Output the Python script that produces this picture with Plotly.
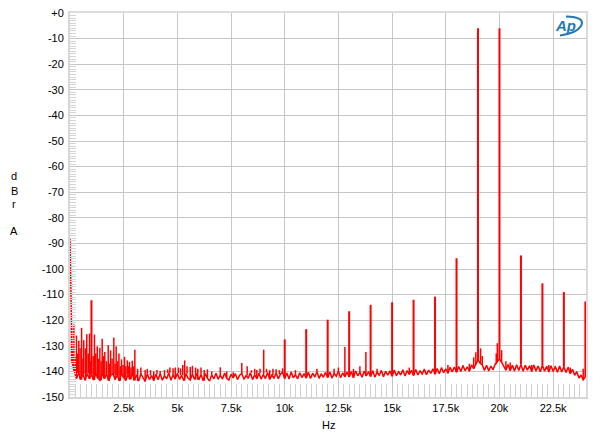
import plotly.graph_objects as go

# ---------------- data ----------------
FLOOR_STEP_HZ = 100
noise_floor_db = [
    -88, -136.5, -140, -142.8, -140.6, -143.2, -141, -143.5, -140.8, -142.9,
    -141.2, -143.4, -140.7, -142.6, -143.5, -140.9, -142.8, -141.1, -143.6, -141.5,
    -140.9, -143.2, -141.4, -143.7, -140.8, -142.5, -143.6, -141.2, -143.1, -140.7,
    -143.5, -141.3, -143.8, -141, -142.7, -143.9, -140.9, -143.2, -141.6, -143.6,
    -141.1, -143.3, -140.8, -143.5, -141.7, -142.9, -140.6, -143.4, -141.3, -143,
    -140.7, -143.1, -141.5, -143.6, -140.9, -142.7, -143.4, -141, -143.2, -140.8,
    -143.3, -141.2, -143.7, -140.9, -142.6, -143.8, -141.3, -142.9, -140.7, -143.1,
    -141.4, -143, -140.6, -142.8, -143.4, -141.1, -142.5, -140.9, -143.2, -141.5,
    -140.8, -143.1, -141.6, -142.7, -140.5, -143.2, -141.3, -142.9, -140.7, -143,
    -141.2, -142.8, -140.4, -143.1, -141.5, -142.6, -140.6, -142.9, -141.1, -140.3,
    -142.8, -140.6, -143, -140.2, -142.5, -141.3, -142.9, -140.5, -142.4, -140.9,
    -142.6, -140.3, -142.8, -140.7, -142.2, -140.1, -142.7, -140.9, -142.3, -140.4,
    -142.4, -140.2, -142.6, -140.8, -141.9, -139.9, -142.5, -140.6, -142.1, -140.3,
    -142.2, -140, -142.5, -139.8, -141.7, -140.4, -142.3, -139.9, -141.8, -140.1,
    -142, -139.7, -142.3, -140.2, -141.6, -139.6, -142.1, -140, -141.5, -139.8,
    -141.9, -139.5, -141.7, -140.1, -141.4, -139.4, -141.8, -139.7, -141.2, -139.6,
    -141.6, -139.3, -141.4, -139.8, -141, -139.2, -141.3, -139.5, -140.8, -139,
    -141.1, -138.9, -140.9, -138.6, -140.5, -139, -140.7, -138.4, -140.2, -138.3,
    -140.3, -138.1, -140, -137.8, -139.7, -138.2, -139.9, -137.5, -138.9, -137.2,
    -135.5, -136.8, -137.5, -139.6, -137.6, -139.8, -137.9, -139.3, -137.2, -136.2,
    -135, -136.5, -137.8, -139.5, -137.3, -139.7, -137.6, -139.8, -137.4, -139.6,
    -137.3, -139.9, -137.6, -139.5, -137.8, -140, -137.5, -139.8, -137.9, -140.1,
    -137.6, -139.9, -138, -140.2, -137.8, -140, -138.1, -140.3, -137.9, -140.2,
    -138.2, -140.4, -138.4, -140.9, -139.2, -141.5, -140.1, -142.6, -141.4, -143.3,
    -142.2,
]

# small spurs (Hz, dBr)
spur_hz = [
    70, 120, 180, 250, 300, 360, 410, 470, 540, 600, 640, 720, 780, 850, 910, 960,
    1080, 1140, 1200, 1270, 1330, 1390, 1450, 1500, 1560, 1620, 1700, 1780, 1830,
    1890, 1960, 2040, 2100, 2150, 2220, 2280, 2340, 2400, 2470, 2540, 2600, 2670,
    2720, 2770, 2840, 2900, 2960, 3020, 3150, 3300, 3500, 3600, 3750, 3900, 4050,
    4200, 4400, 4550, 4650, 4800, 4900, 5050, 5150, 5250, 5340, 5450, 5600, 5700,
    5850, 5950, 6100, 6250, 6400, 6600, 7000, 7300, 7600, 8000, 8250, 8450, 8600,
    8700, 8850, 9020, 9150, 9300, 9450, 9600, 9750, 9900, 10500, 11500, 12300,
    12500, 12800, 13200, 13500, 13780, 14300, 14500, 15500, 15800, 16500, 17300,
    17600, 18300, 18600, 18800, 18900, 19120, 19200, 19850, 19900, 20100, 20300,
    20500, 21500, 22300, 22600, 23300, 23900,
]
spur_db = [
    -123, -132, -121.7, -134, -126, -133, -128, -131, -123, -135, -127.8, -131,
    -125.5, -133, -125.2, -136, -134, -125.6, -133, -130.2, -135, -130.8, -136,
    -127.2, -134, -132.4, -136, -129.8, -137, -131.8, -135, -126.8, -137, -130.2,
    -136, -133, -138, -135.3, -137.5, -134.3, -138, -135.7, -138, -136.3, -138.5,
    -135.8, -138, -131.5, -139, -138.5, -139.5, -139, -139.5, -140, -139.5, -139.8,
    -139.5, -139.2, -138.5, -138.8, -138.5, -138.5, -138.8, -137.5, -135.7, -138,
    -138.3, -137.8, -138.5, -139, -138.5, -139.5, -139.2, -140, -138.4, -140,
    -140.3, -136.7, -138, -139.5, -139, -139.5, -139, -131.5, -139, -139.5, -139,
    -139.2, -139.5, -138.8, -139.5, -139, -139, -138.5, -130.5, -139, -138,
    -132.4, -139, -139.5, -139.5, -138.5, -139, -138.5, -137.5, -137.5, -137,
    -134.5, -132.5, -131, -134, -133, -129, -131.7, -136, -136.5, -137.5, -137.5,
    -137.8, -138.5, -139,
]

# harmonics / main tones (Hz, dBr)
tone_hz = [1000, 10000, 11000, 12000, 13000, 14000, 15000, 16000, 17000, 18000,
           19000, 20000, 21000, 22000, 23000, 24000]
tone_db = [-112.2, -127.5, -123.5, -119.8, -116.5, -114, -113, -112, -110.8,
           -95.8, -6, -6, -94.7, -105.6, -109, -112.7]

x_tick_hz = [2500, 5000, 7500, 10000, 12500, 15000, 17500, 20000, 22500]
x_tick_text = ["2.5k", "5k", "7.5k", "10k", "12.5k", "15k", "17.5k", "20k", "22.5k"]
y_tick_db = [0, -10, -20, -30, -40, -50, -60, -70, -80, -90, -100, -110, -120, -130, -140, -150]
y_tick_text = ["+0"] + [str(v) for v in y_tick_db[1:]]

# ---------------- figure ----------------
floor_hz = [i * FLOOR_STEP_HZ for i in range(len(noise_floor_db))]


def spikes(freqs, levels):
    xs, ys = [], []
    for f, lv in zip(freqs, levels):
        idx = min(int(round(f / FLOOR_STEP_HZ)), len(noise_floor_db) - 1)
        base = noise_floor_db[idx]
        xs += [f, f, None]
        ys += [base, lv, None]
    return xs, ys


RED = "#ff0000"
fig = go.Figure()
fig.add_trace(go.Scatter(x=floor_hz, y=noise_floor_db, mode="lines",
                         line=dict(color=RED, width=1.5), hoverinfo="skip"))
sx, sy = spikes(spur_hz, spur_db)
fig.add_trace(go.Scatter(x=sx, y=sy, mode="lines",
                         line=dict(color=RED, width=1.5), hoverinfo="skip"))
tx, ty = spikes(tone_hz, tone_db)
fig.add_trace(go.Scatter(x=tx, y=ty, mode="lines",
                         line=dict(color=RED, width=2), hoverinfo="skip"))

FONT = "Arial, Liberation Sans, sans-serif"
GRID = "#c6c6c6"
NOGRID = "rgba(0,0,0,0)"
fig.update_layout(
    width=600, height=440,
    margin=dict(l=70, r=14, t=13, b=43, autoexpand=False),
    paper_bgcolor="white", plot_bgcolor="white",
    showlegend=False,
    font=dict(family=FONT, size=11, color="black"),
    xaxis=dict(range=[0, 24030], tickmode="array", tickvals=x_tick_hz,
               ticktext=x_tick_text, showgrid=True, gridcolor=GRID, gridwidth=1,
               zeroline=False, showline=True, linecolor="#d6d6d6", linewidth=2,
               mirror=False, ticks="inside", ticklen=13, tickcolor="#c8c8c8",
               minor=dict(tickmode="linear", tick0=0, dtick=250, ticks="inside",
                          ticklen=13, tickcolor="#d0d0d0", showgrid=False,
                          gridcolor=NOGRID),
               tickfont=dict(size=11), automargin=False, fixedrange=True),
    yaxis=dict(range=[-150, 0], tickmode="array", tickvals=y_tick_db,
               ticktext=y_tick_text, showgrid=True, gridcolor=GRID, gridwidth=1,
               zeroline=False, showline=True, linecolor="#d6d6d6", linewidth=2,
               mirror=False, ticks="inside", ticklen=6, tickcolor="#c8c8c8",
               minor=dict(tickmode="linear", tick0=0, dtick=1, ticks="inside",
                          ticklen=6, tickcolor="#d4d4d4", showgrid=False,
                          gridcolor=NOGRID),
               ticklabelstandoff=2, tickfont=dict(size=11), automargin=False,
               fixedrange=True),
    xaxis2=dict(overlaying="x", side="top", range=[0, 24030], showgrid=False,
                showline=True, linecolor="#dcdcdc", linewidth=2, showticklabels=False,
                ticks="", zeroline=False, automargin=False, fixedrange=True),
    yaxis2=dict(overlaying="y", side="right", range=[-150, 0], showgrid=False,
                showline=True, linecolor="#dcdcdc", linewidth=2, showticklabels=False,
                ticks="", zeroline=False, automargin=False, fixedrange=True),
)
# invisible trace to activate the frame axes
fig.add_trace(go.Scatter(x=[None], y=[None], xaxis="x2", yaxis="y2",
                         hoverinfo="skip", showlegend=False))


def px_x(p):
    return (p - 70) / 516.0


def px_y(p):
    return (397.0 - p) / 384.0


annots = [("d", 14, 176), ("B", 14, 190.7), ("r", 14, 204), ("A", 14, 231),
          ("Hz", 328, 425)]
for txt, x, y in annots:
    fig.add_annotation(text=txt, x=px_x(x), y=px_y(y), xref="paper", yref="paper",
                       showarrow=False, xanchor="center", yanchor="middle",
                       font=dict(family=FONT, size=11, color="black"))

# Ap logo
LOGO = "#1f78b8"
fig.add_annotation(text="<b><i>Ap</i></b>", x=px_x(565), y=px_y(25.5), xref="paper",
                   yref="paper", showarrow=False, xanchor="center", yanchor="middle",
                   font=dict(family=FONT, size=15, color=LOGO))
fig.add_shape(type="path", xref="paper", yref="paper",
              path=(f"M {px_x(566)} {px_y(16.5)} Q {px_x(586)} {px_y(17)} {px_x(581)} {px_y(26)} "
                    f"Q {px_x(577)} {px_y(33)} {px_x(560)} {px_y(35.5)}"),
              line=dict(color=LOGO, width=2))

fig.write_html("out.html", config={"displayModeBar": False},
               post_script="document.body.style.margin='0';document.body.style.overflow='hidden';")
